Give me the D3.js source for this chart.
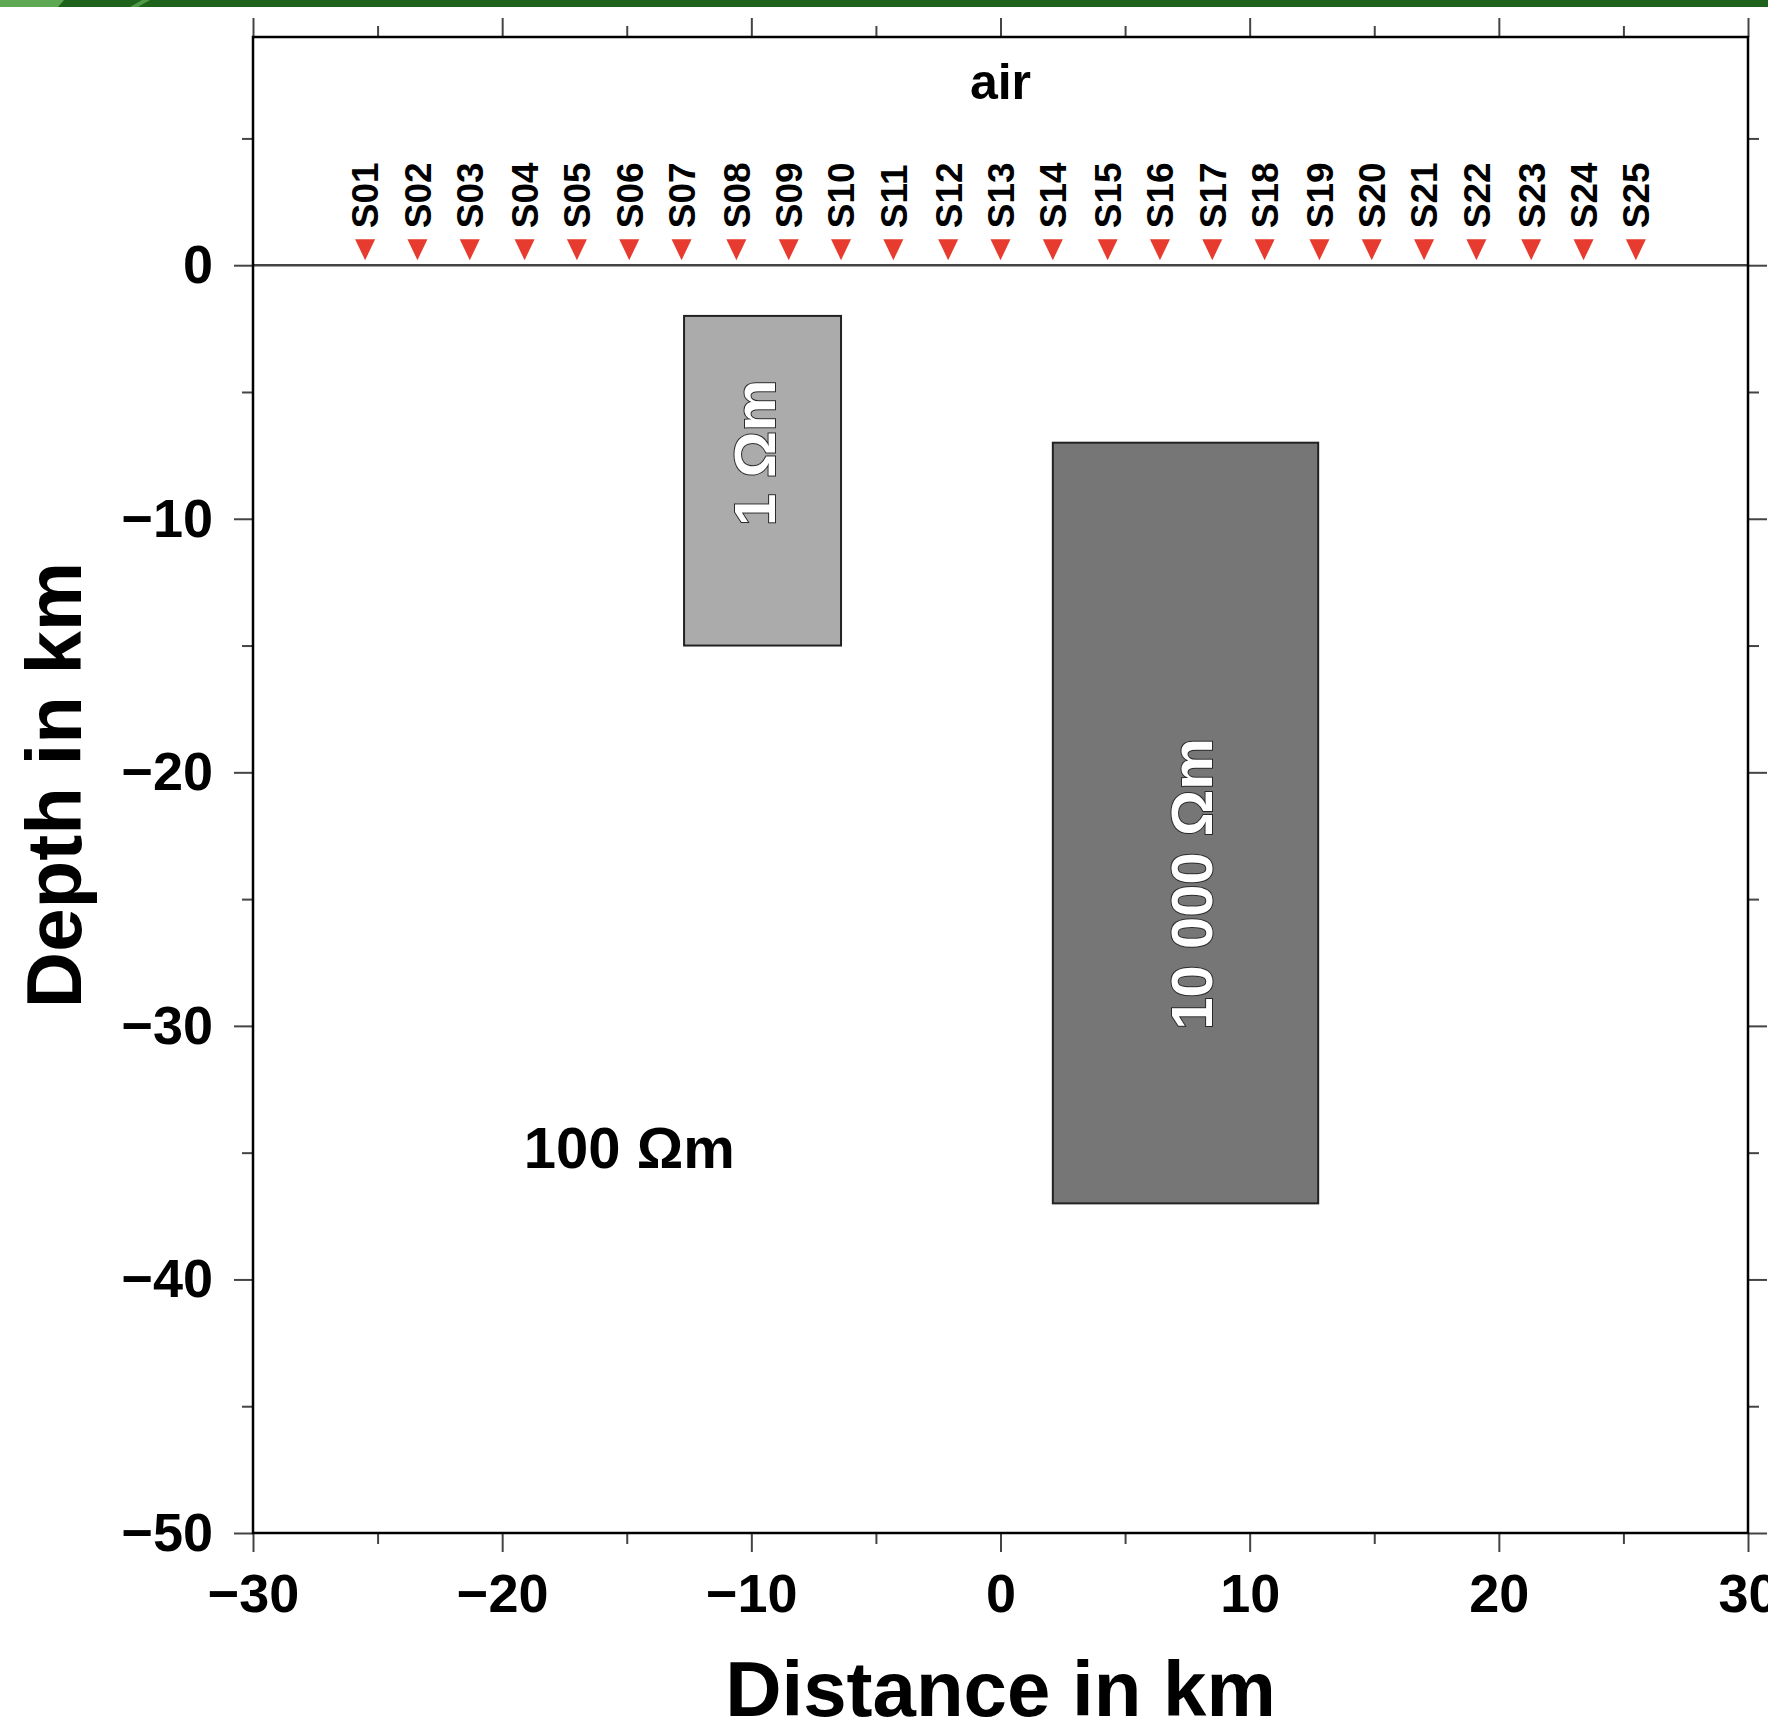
<!DOCTYPE html>
<html>
<head>
<meta charset="utf-8">
<script src="https://cdn.jsdelivr.net/npm/d3@7"></script>
<style>
  body { margin: 0; background: #fff; }
  svg { display: block; }
  text { font-family: "Liberation Sans", Arial, Helvetica, sans-serif; font-weight: bold; }
</style>
</head>
<body>
<div id="chart"></div>
<script>
// station names and positions along the profile (km)
var stationNames = ["S01","S02","S03","S04","S05","S06","S07","S08","S09","S10","S11","S12","S13",
  "S14","S15","S16","S17","S18","S19","S20","S21","S22","S23","S24","S25"];
var stationX = [-25.5,-23.4,-21.3,-19.1,-17.0,-14.9,-12.8,-10.6,-8.5,-6.4,-4.3,-2.1,0,
  2.1,4.3,6.4,8.5,10.6,12.8,14.9,17.0,19.1,21.3,23.4,25.5];

// resistive / conductive bodies (km)
var bodyLabels = ["1 Ωm", "10 000 Ωm"];
var bodyResistivity = [1, 10000];
var bodyXMin = [-12.7, 2.1];
var bodyXMax = [-6.4, 12.75];
var bodyTop = [-2, -7];
var bodyBottom = [-15, -37];
var bodyLabelX = [-9.9, 7.65];
var bodyLabelY = [-7.4, -24.4];

// background half-space label
var backgroundLabel = "100 Ωm";
var backgroundX = -14.9;
var backgroundY = -34.8;

// axis ticks
var xMajorTicks = [-30, -20, -10, 0, 10, 20, 30];
var xMinorTicks = [-25, -15, -5, 5, 15, 25];
var yMajorTicks = [0, -10, -20, -30, -40, -50];
var yMinorTicks = [5, -5, -15, -25, -35, -45];

var svgWidth = 1768;
var svgHeight = 1723;

var margin = { top: 37, left: 253, right: 20, bottom: 190 };
var width = 1495;
var height = 1496;

var svg = d3.select("#chart")
  .append("svg")
  .attr("width", svgWidth)
  .attr("height", svgHeight);

// slide banner on top
svg.append("rect")
  .attr("x", 0).attr("y", 0)
  .attr("width", svgWidth).attr("height", 7)
  .attr("fill", "#1f621c");
svg.append("polygon")
  .attr("points", "0,0 64,0 58,7 0,7")
  .attr("fill", "#5fa853");
svg.append("polygon")
  .attr("points", "142,0 150,0 138,7 130,7")
  .attr("fill", "#4f9a45");

var chartGroup = svg.append("g")
  .attr("transform", `translate(${margin.left}, ${margin.top})`);

var xScale = d3.scaleLinear().domain([-30, 30]).range([0, width]);
var yScale = d3.scaleLinear().domain([-50, 9]).range([height, 0]);

var bodyFill = d3.scaleOrdinal().domain([1, 10000]).range(["#ababab", "#767676"]);

// bodies
chartGroup.selectAll("rect.body")
  .data(bodyLabels)
  .enter()
  .append("rect")
  .attr("class", "body")
  .attr("x", (d, i) => xScale(bodyXMin[i]))
  .attr("y", (d, i) => yScale(bodyTop[i]))
  .attr("width", (d, i) => xScale(bodyXMax[i]) - xScale(bodyXMin[i]))
  .attr("height", (d, i) => yScale(bodyBottom[i]) - yScale(bodyTop[i]))
  .attr("fill", (d, i) => bodyFill(bodyResistivity[i]))
  .attr("stroke", "#222")
  .attr("stroke-width", 2);

chartGroup.selectAll("text.body-label")
  .data(bodyLabels)
  .enter()
  .append("text")
  .attr("class", "body-label")
  .attr("transform", (d, i) => `translate(${xScale(bodyLabelX[i])}, ${yScale(bodyLabelY[i])}) rotate(-90)`)
  .attr("text-anchor", "middle")
  .attr("dy", "0.36em")
  .attr("font-size", 58)
  .attr("fill", "#fff")
  .attr("stroke", "#2a2a2a")
  .attr("stroke-width", 2)
  .attr("paint-order", "stroke")
  .text(d => d);

chartGroup.append("text")
  .attr("x", xScale(backgroundX))
  .attr("y", yScale(backgroundY))
  .attr("dy", "0.36em")
  .attr("text-anchor", "middle")
  .attr("font-size", 58)
  .attr("fill", "#000")
  .text(backgroundLabel);

// surface line
chartGroup.append("line")
  .attr("x1", 0).attr("x2", width)
  .attr("y1", yScale(0)).attr("y2", yScale(0))
  .attr("stroke", "#444")
  .attr("stroke-width", 2.5);

// axes
function styleAxis(g) {
  g.select(".domain").remove();
  g.selectAll(".tick line").attr("stroke", "#444").attr("stroke-width", 2);
  g.selectAll(".tick text")
    .attr("font-size", 54)
    .attr("font-family", "'Liberation Sans', Arial, Helvetica, sans-serif")
    .attr("font-weight", "bold")
    .attr("fill", "#000");
}

chartGroup.append("g")
  .attr("transform", `translate(0, ${height})`)
  .call(d3.axisBottom(xScale).tickValues(xMajorTicks).tickSize(19).tickPadding(22))
  .call(styleAxis);
chartGroup.append("g")
  .attr("transform", `translate(0, ${height})`)
  .call(d3.axisBottom(xScale).tickValues(xMinorTicks).tickSize(11).tickFormat(""))
  .call(styleAxis);

chartGroup.append("g")
  .call(d3.axisTop(xScale).tickValues(xMajorTicks).tickSize(19).tickFormat(""))
  .call(styleAxis);
chartGroup.append("g")
  .call(d3.axisTop(xScale).tickValues(xMinorTicks).tickSize(11).tickFormat(""))
  .call(styleAxis);

chartGroup.append("g")
  .call(d3.axisLeft(yScale).tickValues(yMajorTicks).tickSize(19).tickPadding(21))
  .call(styleAxis);
chartGroup.append("g")
  .call(d3.axisLeft(yScale).tickValues(yMinorTicks).tickSize(11).tickFormat(""))
  .call(styleAxis);

chartGroup.append("g")
  .attr("transform", `translate(${width}, 0)`)
  .call(d3.axisRight(yScale).tickValues(yMajorTicks).tickSize(19).tickFormat(""))
  .call(styleAxis);
chartGroup.append("g")
  .attr("transform", `translate(${width}, 0)`)
  .call(d3.axisRight(yScale).tickValues(yMinorTicks).tickSize(11).tickFormat(""))
  .call(styleAxis);

// frame
chartGroup.append("rect")
  .attr("x", 0).attr("y", 0)
  .attr("width", width).attr("height", height)
  .attr("fill", "none")
  .attr("stroke", "#000")
  .attr("stroke-width", 2.5);

// stations
chartGroup.selectAll("path.station")
  .data(stationX)
  .enter()
  .append("path")
  .attr("class", "station")
  .attr("transform", d => `translate(${xScale(d)}, ${yScale(0)})`)
  .attr("d", "M-10,-26 L10,-26 L0,-5 Z")
  .attr("fill", "#e63b2e");

chartGroup.selectAll("text.station-label")
  .data(stationNames)
  .enter()
  .append("text")
  .attr("class", "station-label")
  .attr("transform", (d, i) => `translate(${xScale(stationX[i])}, ${yScale(0) - 37}) rotate(-90)`)
  .attr("dy", "0.36em")
  .attr("text-anchor", "start")
  .attr("font-size", 37)
  .attr("fill", "#000")
  .text(d => d);

chartGroup.append("text")
  .attr("x", xScale(0))
  .attr("y", yScale(6.55))
  .attr("text-anchor", "middle")
  .attr("font-size", 50)
  .attr("fill", "#000")
  .text("air");

// axis titles
chartGroup.append("text")
  .attr("x", width / 2)
  .attr("y", 1716 - margin.top)
  .attr("text-anchor", "middle")
  .attr("font-size", 78)
  .attr("fill", "#000")
  .text("Distance in km");

chartGroup.append("text")
  .attr("transform", `translate(${81 - margin.left}, ${785 - margin.top}) rotate(-90)`)
  .attr("text-anchor", "middle")
  .attr("font-size", 78)
  .attr("fill", "#000")
  .text("Depth in km");
</script>
</body>
</html>
